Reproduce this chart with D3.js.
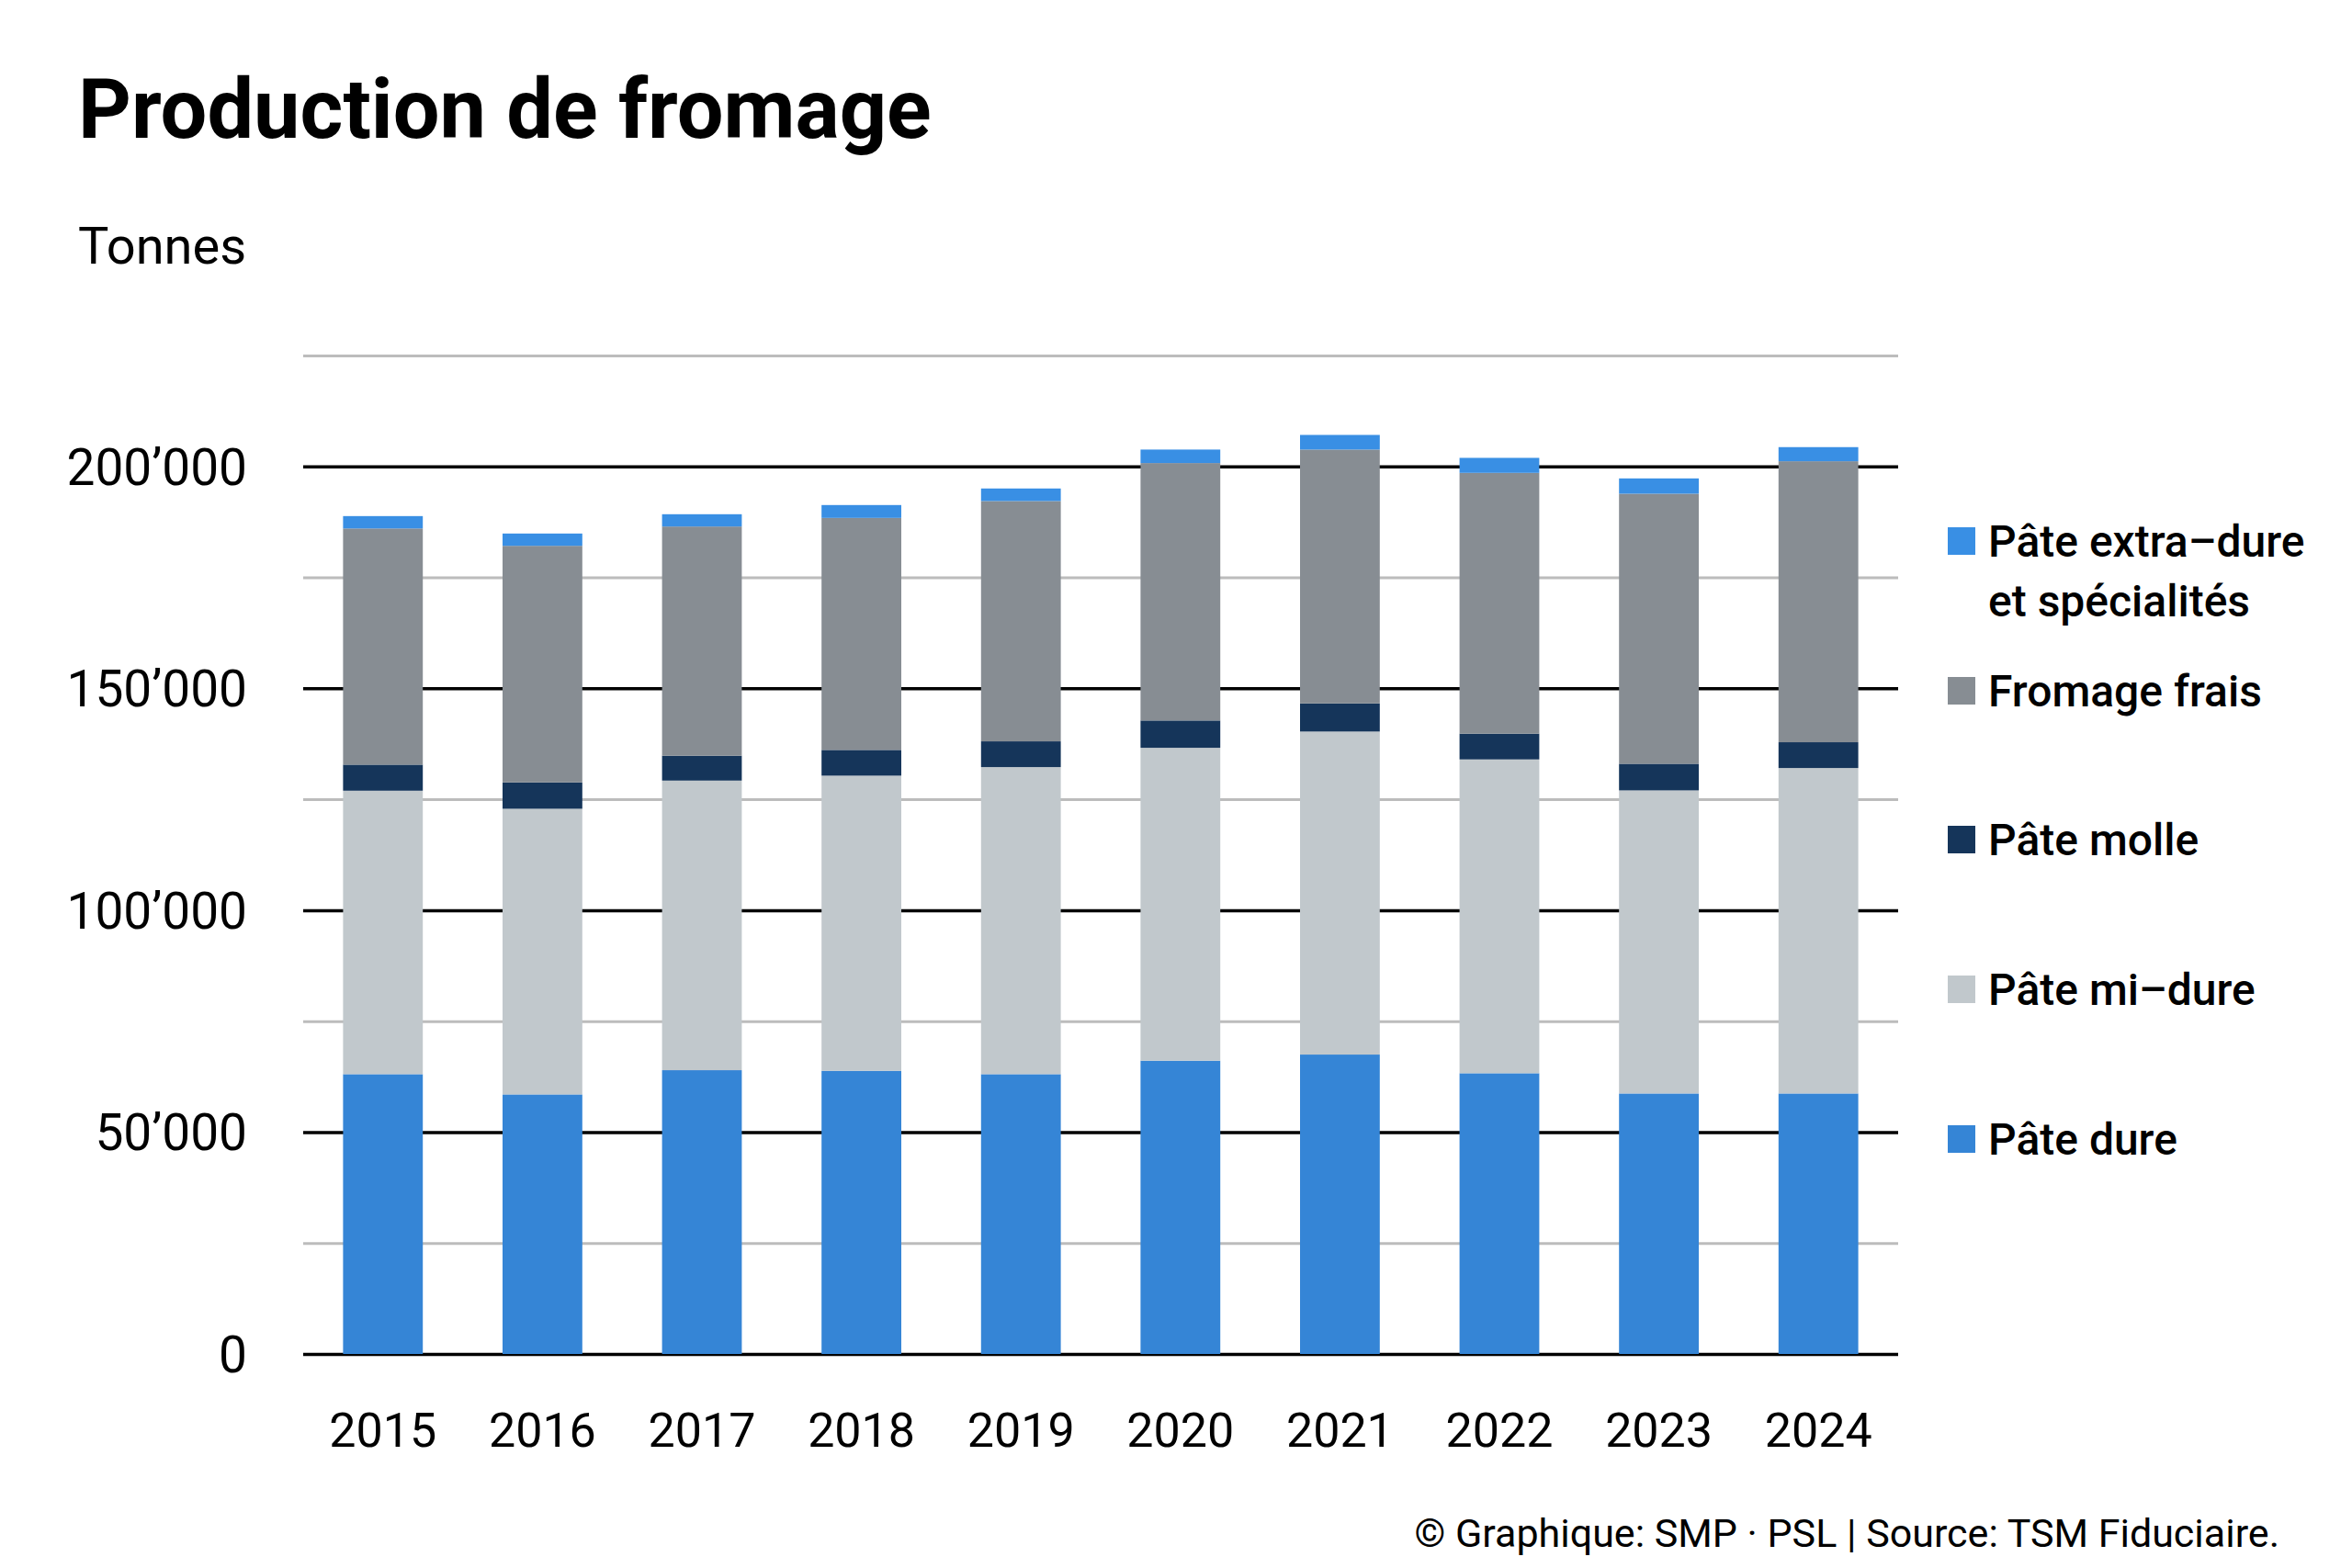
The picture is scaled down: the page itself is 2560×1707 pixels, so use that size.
<!DOCTYPE html>
<html>
<head>
<meta charset="utf-8">
<script src="https://cdn.jsdelivr.net/npm/d3@7"></script>
<style>
  body { margin: 0; background: #fff; }
  text { font-family: Roboto, "Noto Sans", sans-serif; fill: #000; }
</style>
</head>
<body>
<svg id="chart"></svg>
<script>
const width = 2560;
const height = 1707;
const margin = { top: 387, right: 494, bottom: 233, left: 330 };

// data (tonnes)
const years = ["2015", "2016", "2017", "2018", "2019", "2020", "2021", "2022", "2023", "2024"];
const pateDure      = [63050, 58490, 63950, 63810, 63050, 66090, 67470, 63260, 58700, 58700];
const pateMiDure    = [63880, 64370, 65260, 66510, 69200, 70510, 72790, 70720, 68300, 73340];
const pateMolle     = [5870, 5940, 5600, 5800, 5800, 6150, 6340, 5800, 6000, 5810];
const fromageFrais  = [53220, 53310, 51650, 52280, 54150, 58010, 57200, 58770, 60850, 63320];
const pateExtraDure = [2790, 2770, 2770, 2900, 2830, 3040, 3300, 3380, 3450, 3180];

const keys = ["dure", "miDure", "molle", "frais", "extra"];
const colors = {
  dure: "#3585d6",
  miDure: "#c1c8cc",
  molle: "#15355a",
  frais: "#878d93",
  extra: "#398fe4"
};
const legendItems = [
  { key: "extra", lines: ["Pâte extra–dure", "et spécialités"] },
  { key: "frais", lines: ["Fromage frais"] },
  { key: "molle", lines: ["Pâte molle"] },
  { key: "miDure", lines: ["Pâte mi–dure"] },
  { key: "dure", lines: ["Pâte dure"] }
];
const gridValues = [0, 25000, 50000, 75000, 100000, 125000, 150000, 175000, 200000, 225000];

const rows = years.map((y, i) => ({
  year: y,
  dure: pateDure[i],
  miDure: pateMiDure[i],
  molle: pateMolle[i],
  frais: fromageFrais[i],
  extra: pateExtraDure[i]
}));

const innerW = width - margin.left - margin.right;
const innerH = height - margin.top - margin.bottom;

const svg = d3.select("#chart")
  .attr("width", width)
  .attr("height", height);

svg.append("rect").attr("width", width).attr("height", height).attr("fill", "#fff");

const g = svg.append("g")
  .attr("transform", "translate(" + margin.left + "," + margin.top + ")");

const x = d3.scaleBand()
  .domain(years)
  .range([0, innerW])
  .paddingInner(0.5)
  .paddingOuter(0.25);

const y = d3.scaleLinear()
  .domain([0, 225000])
  .range([innerH, 0]);

const loc = d3.formatLocale({ decimal: ".", thousands: "’", grouping: [3], currency: ["", ""] });
const fmt = loc.format(",");
const isMajor = d => d % 50000 === 0 && d <= 200000;

// gridlines + y labels
const yAxis = d3.axisLeft(y)
  .tickValues(gridValues)
  .tickSize(-innerW)
  .tickPadding(61)
  .tickFormat(d => isMajor(d) ? fmt(d) : "");

const yg = g.append("g").call(yAxis);
yg.select(".domain").remove();
yg.selectAll(".tick line")
  .attr("stroke", d => isMajor(d) ? "#000" : "#bcbcbc")
  .attr("stroke-width", d => isMajor(d) ? 3.5 : 3);
yg.selectAll(".tick text")
  .attr("font-size", 55)
  .attr("dy", "0.35em")
  .style("font-family", "Roboto, sans-serif")
  .attr("fill", "#000");

// stacked bars
const stack = d3.stack().keys(keys);
const series = stack(rows);

g.append("g")
  .selectAll("g")
  .data(series)
  .enter()
  .append("g")
  .attr("fill", d => colors[d.key])
  .selectAll("rect")
  .data(d => d)
  .enter()
  .append("rect")
  .attr("x", d => x(d.data.year))
  .attr("y", d => y(d[1]))
  .attr("width", x.bandwidth())
  .attr("height", d => y(d[0]) - y(d[1]));

// x labels
const xAxis = d3.axisBottom(x).tickSize(0).tickPadding(64);
const xg = g.append("g")
  .attr("transform", "translate(0," + innerH + ")")
  .call(xAxis);
xg.select(".domain").remove();
xg.selectAll(".tick text")
  .attr("font-size", 52)
  .style("font-family", "Roboto, sans-serif")
  .attr("fill", "#000");

// legend
const legendY = [589, 752, 914, 1077, 1240];
const legend = svg.append("g");
legendItems.forEach((item, i) => {
  const cy = legendY[i];
  legend.append("rect")
    .attr("x", 2120)
    .attr("y", cy - 15)
    .attr("width", 30)
    .attr("height", 30)
    .attr("fill", colors[item.key]);
  item.lines.forEach((line, j) => {
    legend.append("text")
      .attr("x", 2164)
      .attr("y", cy + j * 65)
      .attr("dy", "0.35em")
      .attr("font-size", 48)
      .attr("font-weight", 500)
      .text(line);
  });
});

// titles
svg.append("text")
  .attr("x", 85)
  .attr("y", 150)
  .attr("font-size", 90)
  .attr("font-weight", 700)
  .text("Production de fromage");

svg.append("text")
  .attr("x", 85)
  .attr("y", 287)
  .attr("font-size", 56)
  .text("Tonnes");

svg.append("text")
  .attr("x", 2481)
  .attr("y", 1684)
  .attr("text-anchor", "end")
  .attr("font-size", 43)
  .text("© Graphique: SMP · PSL | Source: TSM Fiduciaire.");
</script>
</body>
</html>
